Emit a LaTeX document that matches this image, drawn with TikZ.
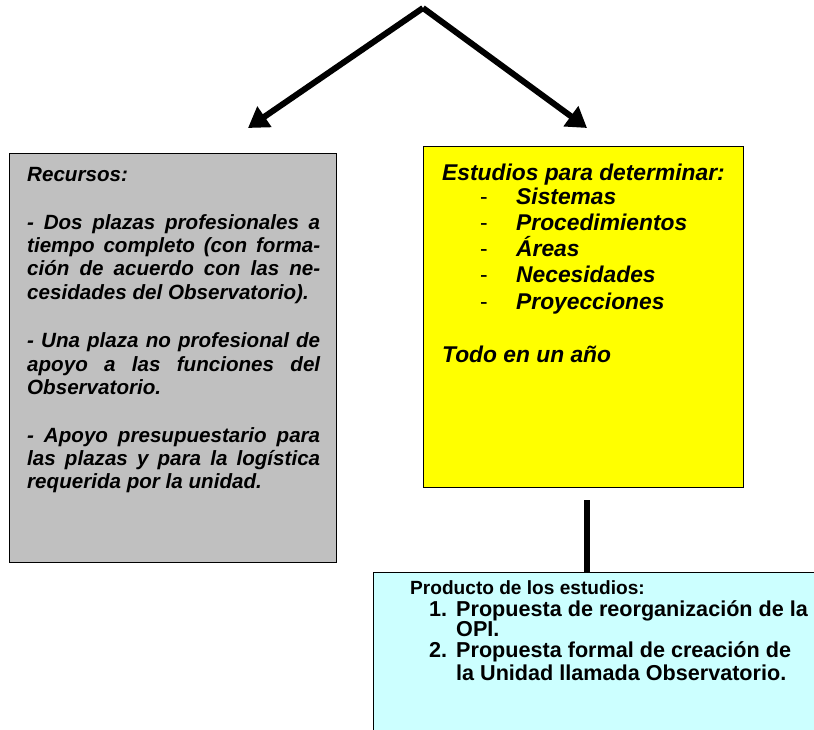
\documentclass[tikz,border=0pt]{standalone}
\usepackage{fontspec}
\setmainfont{Liberation Sans}
\usetikzlibrary{arrows.meta,positioning}
\definecolor{boxgray}{RGB}{192,192,192}
\definecolor{boxyellow}{RGB}{255,255,0}
\definecolor{boxcyan}{RGB}{204,255,255}
\tikzset{
  box/.style={draw, line width=1.2pt, inner sep=0pt, anchor=north west},
  txt/.style={anchor=north west, inner sep=0pt},
  bigarrow/.style={draw, line width=6pt, -{Triangle[length=20pt,width=24pt]}}
}
\begin{document}
\begin{tikzpicture}[x=1pt,y=-1pt]
\useasboundingbox (0,0) rectangle (814,730);
\clip (0,0) rectangle (814,730);

\node[box, fill=boxgray, minimum width=327pt, minimum height=409pt] (recursos) at (9,153) {};
\node[box, fill=boxyellow, minimum width=320pt, minimum height=341pt] (estudios) at (423,146) {};
\node[box, fill=boxcyan, minimum width=470pt, minimum height=190pt] (producto) at (373,572) {};

\coordinate (top) at (423,8);
\coordinate (recTip) at (248,128);
\coordinate (estTip) at (587,128);
\coordinate (stem) at (587,500);

\path[bigarrow] (top) -- (recTip);
\path[bigarrow] (top) -- (estTip);
\path[draw, line width=6pt] (stem) -- (stem |- producto.north);

\node[txt, text width=293pt, align=justify,
  font=\fontsize{20.6}{23.2}\selectfont\bfseries\itshape] (recursosTxt) at (27,167) {%
\sloppy\hyphenpenalty=10000
Recursos:\par\vskip 25pt
- Dos plazas profesionales a\linebreak
tiempo completo (con forma-\linebreak
ción de acuerdo con las ne-\linebreak
cesidades del Observatorio).\par\vskip 25.5pt
- Una plaza no profesional de\linebreak
apoyo a las funciones del\linebreak
Observatorio.\par\vskip 25pt
- Apoyo presupuestario para\linebreak
las plazas y para la logística\linebreak
requerida por la unidad.};

\node[txt, align=left,
  font=\fontsize{22.8}{26.3}\selectfont\bfseries\itshape] (estudiosTxt) at (442,164) {%
Estudios para determinar:\\[-3pt]
\hspace*{38pt}\makebox[36pt][l]{\mdseries\upshape -}Sistemas\\
\hspace*{38pt}\makebox[36pt][l]{\mdseries\upshape -}Procedimientos\\
\hspace*{38pt}\makebox[36pt][l]{\mdseries\upshape -}Áreas\\
\hspace*{38pt}\makebox[36pt][l]{\mdseries\upshape -}Necesidades\\
\hspace*{38pt}\makebox[36pt][l]{\mdseries\upshape -}Proyecciones\\[27pt]
Todo en un año};

\node[txt, font=\fontsize{19.1}{20.5}\selectfont\bfseries] (productoTxt) at (410,580) {Producto de los estudios:};
\node[txt, align=left,
  font=\fontsize{21.6}{20.5}\selectfont\bfseries] (productoList) at (429,600) {%
\makebox[27pt][l]{1.}Propuesta de reorganización de la\\
\hspace*{27pt}OPI.\\
\makebox[27pt][l]{2.}Propuesta formal de creación de\\[3pt]
\hspace*{27pt}la Unidad llamada Observatorio.};
\end{tikzpicture}
\end{document}
